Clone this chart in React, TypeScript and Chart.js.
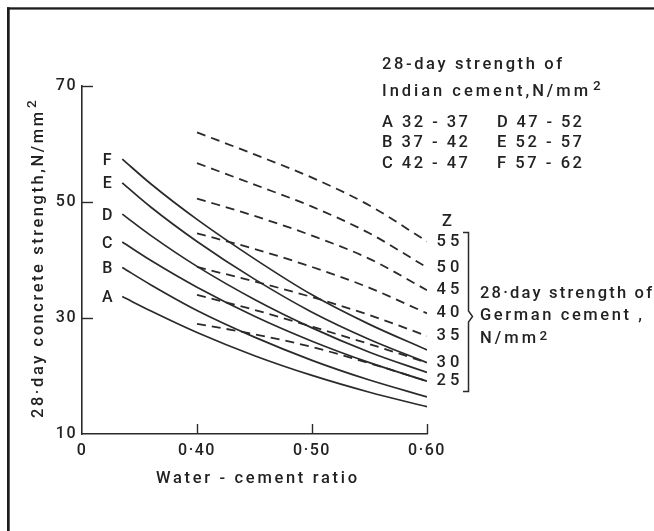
import React, { useEffect, useRef } from 'react';
import { Chart, registerables } from 'chart.js';

Chart.register(...registerables);

// ---- axes ----
const xTickValues = [0.3, 0.4, 0.5, 0.6];
const xTickLabels = ['0', '0·40', '0·50', '0·60'];
const yTickValues = [10, 30, 50, 70];
const yTickLabels = ['10', '30', '50', '70'];

// ---- Indian cement curves (solid) ----
const curveNames = ['A', 'B', 'C', 'D', 'E', 'F'];
const curveX = [0.335, 0.36, 0.4, 0.45, 0.5, 0.55, 0.6];
const curveA = [33.7, 31.2, 27.5, 23.5, 20.1, 17.2, 14.7];
const curveB = [38.7, 35.7, 31.3, 26.7, 22.7, 19.3, 16.4];
const curveC = [43.1, 39.9, 35.3, 30.3, 26.0, 22.3, 19.1];
const curveD = [47.9, 44.2, 38.9, 33.2, 28.3, 24.1, 20.6];
const curveE = [53.3, 49.1, 43.2, 36.7, 31.0, 26.3, 22.3];
const curveF = [57.4, 53.1, 47.0, 40.2, 34.0, 28.9, 24.5];
const curves = [curveA, curveB, curveC, curveD, curveE, curveF];

// ---- German cement lines (dashed), Z ----
const zNames = ['55', '50', '45', '40', '35', '30', '25'];
const zX = [0.4, 0.45, 0.5, 0.55, 0.6];
const z55 = [62.0, 58.2, 54.2, 49.4, 43.2];
const z50 = [56.7, 53.0, 49.2, 44.6, 38.7];
const z45 = [50.6, 47.6, 44.2, 40.2, 34.8];
const z40 = [44.6, 41.9, 38.8, 35.2, 30.8];
const z35 = [38.8, 36.3, 33.6, 30.5, 26.9];
const z30 = [34.0, 31.4, 28.5, 25.5, 22.3];
const z25 = [29.0, 27.2, 25.0, 22.2, 19.1];
const zLines = [z55, z50, z45, z40, z35, z30, z25];

// ---- text ----
const indianTitle1 = '28-day strength of';
const indianTitle2 = 'Indian cement,N/mm';
const indianRangesLeft = ['A 32 - 37', 'B 37 - 42', 'C 42 - 47'];
const indianRangesRight = ['D 47 - 52', 'E 52 - 57', 'F 57 - 62'];
const germanLines = ['28·day strength of', 'German cement ,', 'N/mm'];
const yTitle = '28·day concrete strength,N/mm';
const xTitle = 'Water - cement ratio';

const INK = '#222222';
const LINE = '#2a2a2a';
const FONT = 'Roboto, "DejaVu Sans", sans-serif';
const WEIGHT = 500;

function fitText(
  ctx: CanvasRenderingContext2D,
  text: string,
  x: number,
  y: number,
  width: number,
  size: number,
  align: CanvasTextAlign = 'left',
  baseline: CanvasTextBaseline = 'alphabetic'
) {
  ctx.font = `${WEIGHT} ${size}px ${FONT}`;
  (ctx as any).letterSpacing = '0px';
  const w0 = ctx.measureText(text).width;
  const n = Math.max(text.length - 1, 1);
  const sp = Math.max(-1, (width - w0) / n);
  (ctx as any).letterSpacing = `${sp}px`;
  ctx.textAlign = align;
  ctx.textBaseline = baseline;
  let xx = x;
  if (align === 'center') xx = x + sp / 2;
  if (align === 'right') xx = x + sp;
  ctx.fillText(text, xx, y);
  (ctx as any).letterSpacing = '0px';
}

const annotate = {
  id: 'annotate',
  beforeDraw(chart: any) {
    const ctx = chart.ctx as CanvasRenderingContext2D;
    ctx.save();
    ctx.fillStyle = '#ffffff';
    ctx.fillRect(0, 0, chart.width, chart.height);
    ctx.restore();
    (ctx as any).letterSpacing = '1.5px';
  },
  afterDraw(chart: any) {
    const ctx = chart.ctx as CanvasRenderingContext2D;
    const xs = chart.scales.x;
    const ys = chart.scales.y;
    const area = chart.chartArea;
    ctx.save();
    (ctx as any).letterSpacing = '0px';

    // inward tick marks
    ctx.strokeStyle = LINE;
    ctx.lineWidth = 1.4;
    xTickValues.slice(1).forEach((v) => {
      const px = Math.round(xs.getPixelForValue(v)) + 0.5;
      ctx.beginPath();
      ctx.moveTo(px, area.bottom);
      ctx.lineTo(px, area.bottom - 10);
      ctx.stroke();
    });
    yTickValues.slice(1).forEach((v) => {
      const py = Math.round(ys.getPixelForValue(v)) + 0.5;
      ctx.beginPath();
      ctx.moveTo(area.left, py);
      ctx.lineTo(area.left + 11, py);
      ctx.stroke();
    });

    ctx.fillStyle = INK;

    // curve letters at start of each solid curve
    curveNames.forEach((name, i) => {
      const p = chart.getDatasetMeta(i).data[0];
      fitText(ctx, name, p.x - 15, p.y + 1.5, 9, 16, 'center', 'middle');
    });

    // Z labels at the end of each dashed line
    const zStart = curveNames.length;
    zNames.forEach((name, i) => {
      const meta = chart.getDatasetMeta(zStart + i);
      const p = meta.data[meta.data.length - 1];
      fitText(ctx, name, xs.getPixelForValue(0.6) + 21, p.y, 23, 16.5, 'center', 'middle');
    });
    const top55 = chart.getDatasetMeta(zStart).data[zX.length - 1];
    fitText(ctx, 'Z', xs.getPixelForValue(0.6) + 20, top55.y - 20, 9, 16.5, 'center', 'middle');

    // bracket
    ctx.strokeStyle = LINE;
    ctx.lineWidth = 1.5;
    ctx.beginPath();
    ctx.moveTo(463, 232.5);
    ctx.lineTo(468.5, 232.5);
    ctx.lineTo(468.5, 311);
    ctx.lineTo(472.5, 316.5);
    ctx.lineTo(468.5, 322);
    ctx.lineTo(468.5, 391.5);
    ctx.lineTo(463, 391.5);
    ctx.stroke();

    // German cement label
    fitText(ctx, germanLines[0], 480, 297.5, 172, 16.5);
    fitText(ctx, germanLines[1], 480, 320, 162, 16.5);
    fitText(ctx, germanLines[2], 480, 342.5, 56, 16.5);
    fitText(ctx, '2', 539.5, 339.5, 8, 13.5);

    // Indian cement legend
    fitText(ctx, indianTitle1, 382, 68.5, 180, 16.5);
    fitText(ctx, indianTitle2, 382, 96, 206, 16.5);
    fitText(ctx, '2', 593, 90, 8, 13.5);
    const rowBase = [126.7, 146.7, 168];
    indianRangesLeft.forEach((t, i) => fitText(ctx, t, 382, rowBase[i], 86, 16.5));
    indianRangesRight.forEach((t, i) => fitText(ctx, t, 497, rowBase[i], 85, 16.5));

    // x axis title
    fitText(ctx, xTitle, 156, 483, 201, 16.5);

    // y axis title (rotated)
    ctx.save();
    ctx.translate(43, 258);
    ctx.rotate(-Math.PI / 2);
    fitText(ctx, yTitle, -160, 0, 306, 16.5, 'left', 'alphabetic');
    fitText(ctx, '2', 150, -7.5, 8, 13.5, 'left', 'alphabetic');
    ctx.restore();

    // scan frame
    ctx.fillStyle = '#1c1c1c';
    ctx.fillRect(7, 7.3, chart.width - 7, 2.3);
    ctx.fillRect(7, 7.3, 2.7, chart.height);

    ctx.restore();
  },
};

export default function App() {
  const ref = useRef<HTMLCanvasElement>(null);

  useEffect(() => {
    const solidSets = curves.map((vals, i) => ({
      label: curveNames[i],
      data: vals.map((y, j) => ({ x: curveX[j], y })),
      borderColor: LINE,
      borderWidth: 1.7,
      cubicInterpolationMode: 'monotone' as const,
      pointRadius: 0,
      fill: false,
    }));
    const dashedSets = zLines.map((vals, i) => ({
      label: 'Z ' + zNames[i],
      data: vals.map((y, j) => ({ x: zX[j], y })),
      borderColor: LINE,
      borderWidth: 1.8,
      borderDash: [9, 6],
      cubicInterpolationMode: 'monotone' as const,
      pointRadius: 0,
      fill: false,
    }));

    const chart = new Chart(ref.current as HTMLCanvasElement, {
      type: 'line',
      data: { datasets: [...solidSets, ...dashedSets] as any },
      options: {
        responsive: false,
        animation: false,
        devicePixelRatio: 1,
        layout: { padding: { left: 0, top: 86, right: 227, bottom: 0 } },
        plugins: {
          legend: { display: false },
          tooltip: { enabled: false },
          title: { display: false },
        },
        elements: { point: { radius: 0 } },
        scales: {
          x: {
            type: 'linear',
            min: 0.3,
            max: 0.6,
            afterBuildTicks: (s: any) => {
              s.ticks = xTickValues.map((v) => ({ value: v }));
            },
            afterFit: (s: any) => {
              s.height = 97;
            },
            grid: { display: false, drawTicks: false },
            border: { display: true, color: LINE, width: 1.6 },
            ticks: {
              autoSkip: false,
              maxRotation: 0,
              padding: 7,
              color: INK,
              font: { family: FONT, size: 16, weight: '500' },
              callback: (v: any) => {
                const i = xTickValues.findIndex((t) => Math.abs(t - Number(v)) < 1e-6);
                return i >= 0 ? xTickLabels[i] : '';
              },
            },
          },
          y: {
            type: 'linear',
            min: 10,
            max: 70,
            afterBuildTicks: (s: any) => {
              s.ticks = yTickValues.map((v) => ({ value: v }));
            },
            afterFit: (s: any) => {
              s.width = 82;
            },
            grid: { display: false, drawTicks: false },
            border: { display: true, color: LINE, width: 1.6 },
            ticks: {
              autoSkip: false,
              padding: 5,
              color: INK,
              font: { family: FONT, size: 16, weight: '500' },
              callback: (v: any) => {
                const i = yTickValues.findIndex((t) => Math.abs(t - Number(v)) < 1e-6);
                return i >= 0 ? yTickLabels[i] : '';
              },
            },
          },
        },
      },
      plugins: [annotate],
    });
    return () => chart.destroy();
  }, []);

  return (
    <div style={{ position: 'absolute', left: 0, top: 0, width: 654, height: 531, background: '#fff' }}>
      <canvas ref={ref} width={654} height={531} style={{ display: 'block', width: 654, height: 531 }} />
    </div>
  );
}
